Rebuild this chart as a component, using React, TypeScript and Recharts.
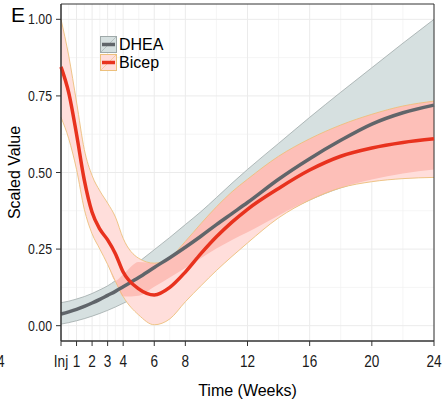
import {
  ComposedChart,
  Area,
  Line,
  XAxis,
  YAxis,
  CartesianGrid,
  ReferenceArea,
} from "recharts";

// Smoothed DHEA vs Bicep response over time (panel E), each with its
// confidence ribbon.
const weeks = [0, 0.5, 1, 1.5, 2, 2.5, 3, 3.5, 4, 5, 6, 7, 8, 9, 10, 11, 12, 14, 16, 18, 20, 22, 24];

const dheaMean = [0.038, 0.045, 0.053, 0.063, 0.074, 0.086, 0.099, 0.112, 0.127, 0.157, 0.19, 0.222, 0.256, 0.292, 0.33, 0.366, 0.402, 0.478, 0.545, 0.605, 0.658, 0.695, 0.72];
const dheaLow = [0.005, 0.01, 0.016, 0.023, 0.031, 0.04, 0.05, 0.061, 0.073, 0.098, 0.127, 0.157, 0.188, 0.22, 0.252, 0.28, 0.305, 0.36, 0.41, 0.45, 0.477, 0.497, 0.51];
const dheaHigh = [0.075, 0.08, 0.087, 0.095, 0.105, 0.117, 0.13, 0.147, 0.167, 0.208, 0.248, 0.288, 0.33, 0.372, 0.418, 0.465, 0.51, 0.595, 0.68, 0.762, 0.842, 0.922, 1.0];

const bicepMean = [0.845, 0.76, 0.625, 0.475, 0.37, 0.315, 0.28, 0.235, 0.175, 0.12, 0.1, 0.125, 0.175, 0.235, 0.29, 0.338, 0.38, 0.448, 0.508, 0.553, 0.58, 0.598, 0.61];
const bicepLow = [0.68, 0.61, 0.51, 0.38, 0.3, 0.25, 0.2, 0.145, 0.095, 0.035, 0.003, 0.022, 0.078, 0.13, 0.18, 0.226, 0.27, 0.352, 0.41, 0.45, 0.47, 0.48, 0.484];
const bicepHigh = [1.0, 0.88, 0.73, 0.575, 0.49, 0.44, 0.4, 0.355, 0.285, 0.22, 0.204, 0.222, 0.275, 0.333, 0.388, 0.437, 0.478, 0.553, 0.61, 0.655, 0.69, 0.717, 0.733];

const xTicks = [0, 1, 2, 3, 4, 6, 8, 12, 16, 20, 24];
const xMinor = [0.5, 1.5, 2.5, 3.5, 5, 7, 10, 14, 18, 22];
const yTicks = [0, 0.25, 0.5, 0.75, 1];
const yMinor = [0.125, 0.375, 0.625, 0.875];

const data = weeks.map((w, i) => {
  const lo = Math.max(dheaLow[i], bicepLow[i]);
  const hi = Math.min(dheaHigh[i], bicepHigh[i]);
  return {
    week: w,
    dhea: dheaMean[i],
    dheaBand: [dheaLow[i], dheaHigh[i]],
    bicep: bicepMean[i],
    bicepBand: [bicepLow[i], bicepHigh[i]],
    overlap: [lo, Math.max(lo, hi)],
  };
});

const FONT = '"Liberation Sans", Arial, sans-serif';
const GREY_FILL = "#d6e0e0";
const PINK_FILL = "#ffdedb";
const OVERLAP_FILL = "#fdbfb8";
const DHEA_LINE = "#60656a";
const BICEP_LINE = "#e8321e";

function XTick({ x, y, payload }: any) {
  const label = payload.value === 0 ? "Inj" : String(payload.value);
  return (
    <g transform={`translate(${x},${y + 19}) scale(0.8,1)`}>
      <text textAnchor="middle" fontSize={17} fontFamily={FONT} fill="#1a1a1a">
        {label}
      </text>
      {payload.value === 0 && (
        <text x={-78} textAnchor="middle" fontSize={17} fontFamily={FONT} fill="#1a1a1a">
          -4
        </text>
      )}
    </g>
  );
}

function YTick({ x, y, payload }: any) {
  return (
    <g transform={`translate(${x - 2},${y}) scale(0.88,1)`}>
      <text textAnchor="end" dy={5} fontSize={14} fontFamily={FONT} fill="#1a1a1a">
        {payload.value.toFixed(2)}
      </text>
    </g>
  );
}

function LegendKey({ fill, border, line }: { fill: string; border: string; line: string }) {
  return (
    <svg width={17} height={17} style={{ display: "block" }}>
      <rect x={0.5} y={0.5} width={16} height={16} fill={fill} stroke={border} />
      <line x1={0.5} y1={16.5} x2={16.5} y2={0.5} stroke={border} strokeWidth={0.6} />
      <line x1={2} y1={8.5} x2={15} y2={8.5} stroke={line} strokeWidth={3.5} />
    </svg>
  );
}

export default function App() {
  return (
    <div style={{ position: "absolute", left: 0, top: 0, width: 442, height: 403, background: "#fff" }}>
      <div style={{ position: "absolute", left: 11, top: 3, fontFamily: FONT, fontSize: 21, color: "#000" }}>E</div>
      <ComposedChart
        width={442}
        height={403}
        data={data}
        margin={{ top: 4, right: 8, left: 0, bottom: 0 }}
      >
        <CartesianGrid stroke="#f2f2f2" strokeWidth={0.8} horizontalValues={yMinor} verticalValues={xMinor} />
        <CartesianGrid stroke="#ebebeb" horizontalValues={yTicks} verticalValues={xTicks} />
        <XAxis
          dataKey="week"
          type="number"
          domain={[0, 24]}
          ticks={xTicks}
          interval={0}
          height={62}
          tick={<XTick />}
          tickLine={{ stroke: "#333" }}
          tickSize={5}
          axisLine={{ stroke: "#333" }}
          label={{
            content: ({ viewBox }: any) => (
              <text
                x={viewBox.x + viewBox.width / 2}
                y={viewBox.y + 55}
                textAnchor="middle"
                fontSize={16}
                fontFamily={FONT}
                fill="#000"
              >
                Time (Weeks)
              </text>
            ),
          }}
        />
        <YAxis
          type="number"
          domain={[-0.05, 1.05]}
          ticks={yTicks}
          width={61}
          tick={<YTick />}
          tickLine={{ stroke: "#333" }}
          tickSize={5}
          axisLine={{ stroke: "#333" }}
          label={{
            content: ({ viewBox }: any) => {
              const cx = 14;
              const cy = viewBox.y + viewBox.height / 2;
              return (
                <text
                  x={cx}
                  y={cy}
                  transform={`rotate(-90 ${cx} ${cy})`}
                  textAnchor="middle"
                  dominantBaseline="central"
                  fontSize={16}
                  fontFamily={FONT}
                  fill="#000"
                >
                  Scaled Value
                </text>
              );
            },
          }}
        />
        <Area
          type="monotone"
          dataKey="dheaBand"
          fill={GREY_FILL}
          fillOpacity={1}
          stroke="#9fa9a9"
          strokeWidth={0.8}
          isAnimationActive={false}
        />
        <Area
          type="monotone"
          dataKey="bicepBand"
          fill={PINK_FILL}
          fillOpacity={1}
          stroke="none"
          isAnimationActive={false}
        />
        <Area
          type="monotone"
          dataKey="overlap"
          fill={OVERLAP_FILL}
          fillOpacity={1}
          stroke="none"
          isAnimationActive={false}
        />
        <Area
          type="monotone"
          dataKey="bicepBand"
          fill="none"
          stroke="#ecc07c"
          strokeWidth={0.9}
          isAnimationActive={false}
        />
        <Line type="monotone" dataKey="dhea" stroke={DHEA_LINE} strokeWidth={3.5} dot={false} isAnimationActive={false} />
        <Line type="monotone" dataKey="bicep" stroke={BICEP_LINE} strokeWidth={3.5} dot={false} isAnimationActive={false} />
        <ReferenceArea x1={0} x2={24} y1={-0.05} y2={1.05} fill="none" stroke="#333" strokeWidth={1} />
      </ComposedChart>
      <div style={{ position: "absolute", left: 100, top: 36, fontFamily: FONT, fontSize: 16, color: "#000", lineHeight: "17px" }}>
        <div style={{ display: "flex", alignItems: "center", gap: 2 }}>
          <LegendKey fill={GREY_FILL} border="#9fa9a9" line={DHEA_LINE} />
          <span>DHEA</span>
        </div>
        <div style={{ display: "flex", alignItems: "center", gap: 2, marginTop: 1 }}>
          <LegendKey fill={PINK_FILL} border="#ecc07c" line={BICEP_LINE} />
          <span>Bicep</span>
        </div>
      </div>
    </div>
  );
}
